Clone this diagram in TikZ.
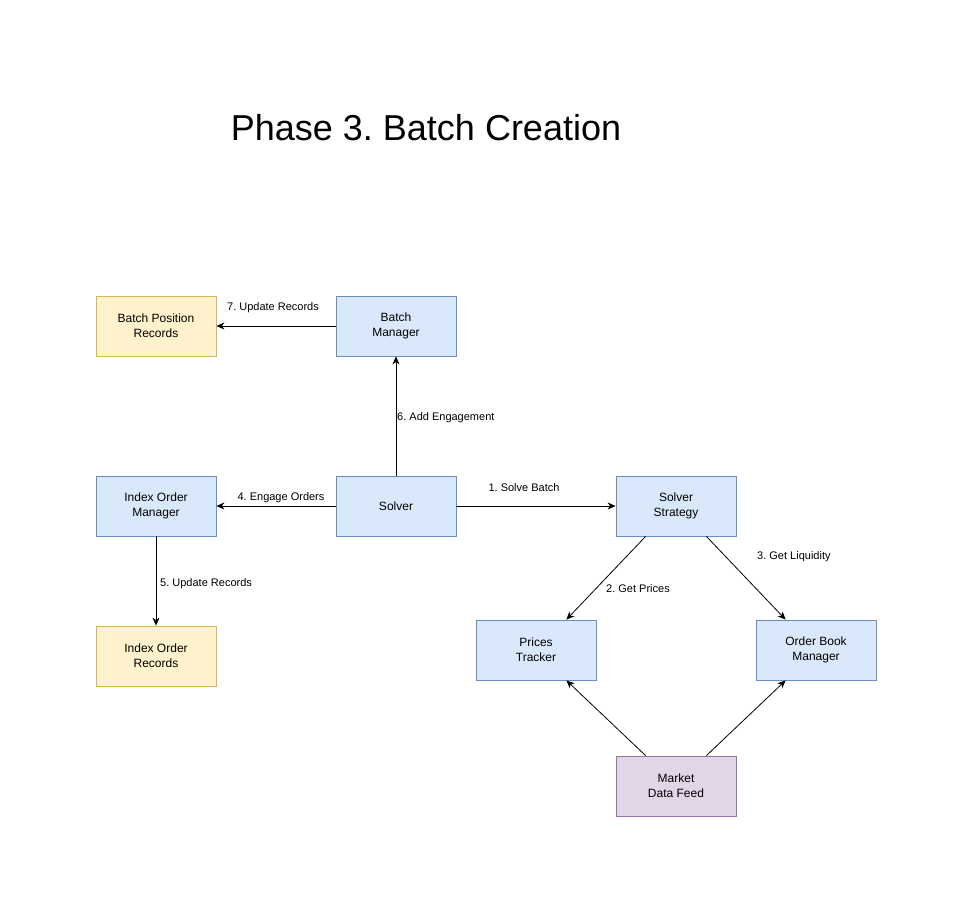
\documentclass[tikz,border=0pt]{standalone}
\usepackage{fontspec}
\setmainfont{Liberation Sans}
\usetikzlibrary{arrows.meta}
\frenchspacing
\definecolor{bluefill}{HTML}{DAE8FC}
\definecolor{bluedraw}{HTML}{6C8EBF}
\definecolor{yellowfill}{HTML}{FFF2CC}
\definecolor{yellowdraw}{HTML}{D6B656}
\definecolor{purplefill}{HTML}{E1D5E7}
\definecolor{purpledraw}{HTML}{9673A6}
\tikzset{
  box/.style={draw, line width=0.8pt, minimum width=120pt, minimum height=60pt, inner sep=0pt,
    align=center, font=\fontsize{12}{15}\selectfont},
  bluebox/.style={box, fill=bluefill, draw=bluedraw},
  yellowbox/.style={box, fill=yellowfill, draw=yellowdraw},
  purplebox/.style={box, fill=purplefill, draw=purpledraw},
  arr/.style={line width=0.8pt, -{Stealth[length=8pt,width=7pt,inset=2.5pt]}},
  elabel/.style={font=\fontsize{11}{13}\selectfont, inner sep=0pt},
}
\begin{document}
\begin{tikzpicture}[x=1pt,y=-1pt]
\useasboundingbox[fill=white] (0,0) rectangle (973,913);
\node[font=\fontsize{36}{42}\selectfont] (title) at (426,128) {Phase 3. Batch Creation};

\node[yellowbox] (bpr) at (156,326) {Batch Position\\Records};
\node[bluebox] (bm) at (396,326) {Batch\\Manager};
\node[bluebox] (iom) at (156,506) {Index Order\\Manager};
\node[bluebox] (solver) at (396,506) {Solver};
\node[bluebox] (ss) at (676,506) {Solver\\Strategy};
\node[yellowbox] (ior) at (156,656) {Index Order\\Records};
\node[bluebox] (pt) at (536,650) {Prices\\Tracker};
\node[bluebox] (obm) at (816,650) {Order Book\\Manager};
\node[purplebox] (mdf) at (676,786) {Market\\Data Feed};

\draw[arr] (solver) -- (ss);
\draw[arr] ([xshift=30pt]ss.south west) -- ([xshift=-30pt]pt.north east);
\draw[arr] ([xshift=-30pt]ss.south east) -- ([xshift=30pt]obm.north west);
\draw[arr] (solver) -- (iom);
\draw[arr] (iom) -- (ior);
\draw[arr] (solver) -- (bm);
\draw[arr] (bm) -- (bpr);
\draw[arr] ([xshift=30pt]mdf.north west) -- ([xshift=-30pt]pt.south east);
\draw[arr] ([xshift=-30pt]mdf.north east) -- ([xshift=30pt]obm.south west);

\node[elabel] (l1) at (524,487.5) {1. Solve Batch};
\node[elabel, anchor=west] (l2) at (606,588.5) {2. Get Prices};
\node[elabel, anchor=west] (l3) at (757,556.5) {3. Get Liquidity};
\node[elabel] (l4) at (281,497.5) {4. Engage Orders};
\node[elabel, anchor=west] (l5) at (160,583.5) {5. Update Records};
\node[elabel, anchor=west] (l6) at (397,417.5) {6. Add Engagement};
\node[elabel] (l7) at (273,307.5) {7. Update Records};
\end{tikzpicture}
\end{document}
